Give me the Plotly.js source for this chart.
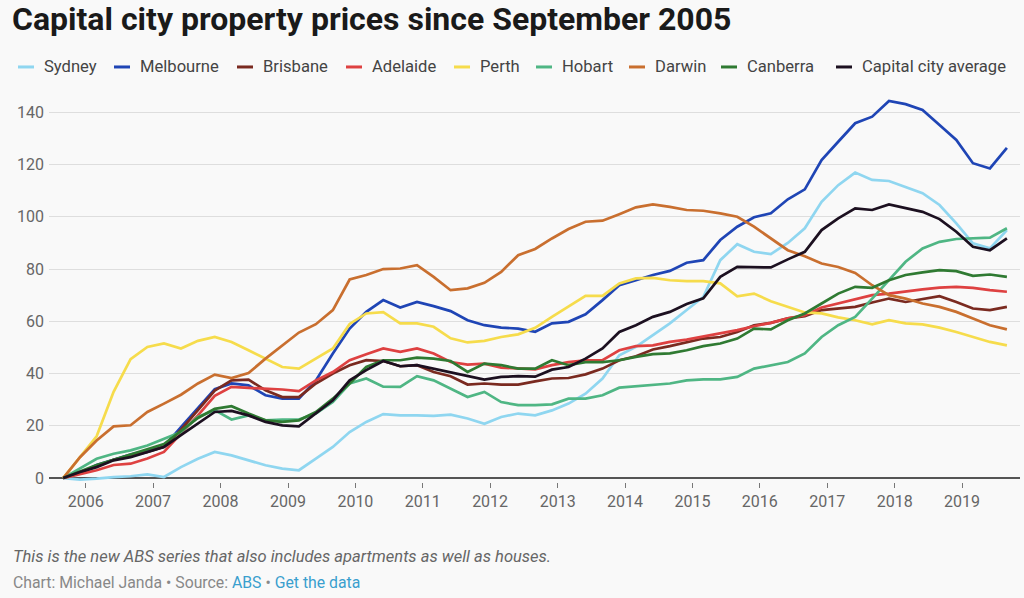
<!DOCTYPE html>
<html><head><meta charset="utf-8">
<script src="https://cdn.plot.ly/plotly-3.0.1.min.js"></script>
<style>html,body{margin:0;padding:0;background:#f9f9f9;} #chart{width:1024px;height:598px;}</style>
</head><body><div id="chart"></div>
<script>
const dates = [
 '2005-09-01','2005-12-01',
 '2006-03-01','2006-06-01','2006-09-01','2006-12-01',
 '2007-03-01','2007-06-01','2007-09-01','2007-12-01',
 '2008-03-01','2008-06-01','2008-09-01','2008-12-01',
 '2009-03-01','2009-06-01','2009-09-01','2009-12-01',
 '2010-03-01','2010-06-01','2010-09-01','2010-12-01',
 '2011-03-01','2011-06-01','2011-09-01','2011-12-01',
 '2012-03-01','2012-06-01','2012-09-01','2012-12-01',
 '2013-03-01','2013-06-01','2013-09-01','2013-12-01',
 '2014-03-01','2014-06-01','2014-09-01','2014-12-01',
 '2015-03-01','2015-06-01','2015-09-01','2015-12-01',
 '2016-03-01','2016-06-01','2016-09-01','2016-12-01',
 '2017-03-01','2017-06-01','2017-09-01','2017-12-01',
 '2018-03-01','2018-06-01','2018-09-01','2018-12-01',
 '2019-03-01','2019-06-01','2019-09-01'
];
const seriesNames = ['Sydney','Melbourne','Brisbane','Adelaide','Perth','Hobart','Darwin','Canberra','Capital city average'];
const sydney = [0,-0.6,-0.2,0.4,0.7,1.4,0.4,4.2,7.4,10,8.7,6.8,4.9,3.6,3.0,7.4,11.9,17.6,21.5,24.5,24,24,23.8,24.3,22.8,20.8,23.4,24.7,24,25.9,28.5,32.3,38.1,47,50.2,54.7,59.2,64.3,69.3,83.4,89.5,86.6,85.7,90,95.6,105.7,112.1,116.9,114.1,113.7,111.5,109,104.5,97.5,89.8,87.9,94.9];
const melbourne = [0,2,5,7,9,10.5,12,19.5,27,34,36.2,35.5,31.7,30.4,30.4,37.4,47.7,57.2,63.6,68.1,65.3,67.4,65.8,63.9,60.4,58.5,57.6,57.2,56,59.2,59.8,62.7,68.1,73.8,75.7,77.7,79.3,82.4,83.4,91.1,96.2,99.8,101.3,106.7,110.5,121.7,128.7,135.8,138.3,144.3,143.1,140.9,135.1,129.4,120.5,118.5,126.4];
const brisbane = [0,2,4.5,7,8.5,10,12,18.5,26,33.5,37.4,37.7,33.6,31,31,36.2,40,43.2,45.1,44.8,42.8,43.2,40.6,39,35.8,36.2,35.8,35.8,37,38.1,38.3,39.7,41.9,45.1,46.6,49.2,50.5,52.1,53.4,54,55.9,58.5,59.4,61.1,62,64.3,64.9,65.5,67.2,68.7,67.4,68.5,69.6,67.4,64.9,64.3,65.5];
const adelaide = [0,1.5,3,5,5.5,7.5,10,17,24,31.5,34.9,34.5,34.3,33.9,33.3,37.4,40.6,45.1,47.4,49.6,48.3,49.6,47.7,44.4,43.4,43.8,42.3,41.9,41.6,43.2,44.4,45.1,45.1,48.9,50.5,50.8,52.1,53,54.2,55.3,56.6,58.1,59.4,61.1,62.3,65.3,66.8,68.5,70,70.6,71.5,72.2,72.9,73.2,72.8,71.9,71.3];
const perth = [0,8,16,33,45.5,50.2,51.5,49.6,52.5,54,52.1,48.9,45.7,42.5,41.9,45.7,49.6,59,63,63.5,59.2,59.2,57.9,53.5,51.9,52.5,54,55,57.5,61.7,65.5,69.7,69.7,74.5,76.4,76.6,75.7,75.4,75.4,74.5,69.6,70.6,67.7,65.5,63.4,63,61.5,60.4,58.8,60.4,59.2,58.8,57.6,55.9,54,52.1,50.8];
const hobart = [0,3.6,7.4,9.3,10.6,12.5,15.1,17.6,23.4,26,22.4,24,22.1,22.4,22.4,24.7,29.1,36.2,38.1,35,34.9,39,37.4,34.3,31,33,29.1,27.9,27.9,28.2,30.4,30.4,31.7,34.6,35.1,35.5,36.2,37.4,37.8,37.8,38.7,41.9,43.2,44.4,47.7,54,58.5,61.7,68.7,75.7,82.8,87.9,90.4,91.5,91.7,92,95.6];
const darwin = [0,8,14.4,19.8,20.2,25.3,28.5,31.9,36.2,39.6,38.3,40.2,45.7,50.8,55.7,58.9,64.3,76,77.7,80,80.2,81.5,77,71.9,72.6,74.7,78.9,85.3,87.7,91.7,95.3,98.1,98.5,101,103.6,104.7,103.8,102.6,102.3,101.3,100,96.2,91.7,87.2,84.9,82.1,80.8,78.5,73.8,70,68.7,66.8,65.5,63.6,61.1,58.5,56.9];
const canberra = [0,2.5,5,7,9,11,13,18,23,26.5,27.5,24.7,22.1,21.5,22.1,25.3,30.4,36.2,42.5,45.1,45.1,46.1,45.7,44.8,40.6,43.8,43.2,41.9,41.9,45.1,43.2,44.4,44.4,45.1,46.4,47.4,47.7,48.9,50.5,51.5,53.4,57.2,56.9,60.4,63,66.8,70.6,73.2,72.8,75.7,77.7,78.7,79.6,79.2,77.4,77.9,77];
const capitalAverage = [0,2.3,4.2,6.8,8,10,11.9,16.4,20.8,25.3,25.7,24,21.5,20.2,19.8,24.7,29.8,37.4,41.3,44.8,42.8,43.2,41.9,40.6,39.3,37.7,38.7,39,38.8,41.5,42.5,45.7,49.6,55.9,58.5,61.7,63.6,66.6,68.8,77,80.8,80.8,80.6,83.7,86.6,94.9,99.4,103.2,102.6,104.7,103.4,101.9,99.1,94.3,88.5,87.2,91.7];
const yearTicks = ['2006','2007','2008','2009','2010','2011','2012','2013','2014','2015','2016','2017','2018','2019'];
const yTicks = [0,20,40,60,80,100,120,140];

const allSeries = [sydney, melbourne, brisbane, adelaide, perth, hobart, darwin, canberra, capitalAverage];
const colors = ['#8fd6f0','#1f45b5','#7a2a20','#de4141','#f6dc4c','#4fb684','#c96f2f','#2f7a32','#1c1020'];

// layout geometry (pixels)
const L = 49, R = 1020, T = 95, B = 481.6;
const px2x = p => (p - L) / (R - L);
const py2y = p => (B - p) / (B - T);

const traces = allSeries.map((vals, k) => ({
  type: 'scatter', mode: 'lines', name: seriesNames[k],
  x: dates, y: vals,
  line: {color: colors[k], width: 2.7, shape: 'linear'},
  hoverinfo: 'skip', showlegend: false
}));

// manual legend
const legendTextX = [42,138,261,370,478,560,653,745,860];
const legendY = 67;
const shapes = [];
const annotations = [];
seriesNames.forEach((n, k) => {
  shapes.push({type:'line', xref:'paper', yref:'paper',
    x0: px2x(legendTextX[k]-24), x1: px2x(legendTextX[k]-8),
    y0: py2y(legendY), y1: py2y(legendY),
    line:{color: colors[k], width: 3}});
  annotations.push({xref:'paper', yref:'paper', x: px2x(legendTextX[k]), y: py2y(legendY),
    xanchor:'left', yanchor:'middle', showarrow:false, text: n,
    font:{family:'Roboto, sans-serif', size:16.6, color:'#444'}});
});
annotations.push({xref:'paper', yref:'paper', x: px2x(11), y: py2y(556), xanchor:'left', yanchor:'middle',
  showarrow:false, text:'<i>This is the new ABS series that also includes apartments as well as houses.</i>',
  font:{family:'Roboto, sans-serif', size:16.5, color:'#666'}});
annotations.push({xref:'paper', yref:'paper', x: px2x(11), y: py2y(582), xanchor:'left', yanchor:'middle',
  showarrow:false, text:'Chart: Michael Janda • Source: <span style="color:#3a9fce">ABS</span> • <span style="color:#3a9fce">Get the data</span>',
  font:{family:'Roboto, sans-serif', size:15.8, color:'#888'}});

const layout = {
  width: 1024, height: 598,
  paper_bgcolor: '#f9f9f9', plot_bgcolor: '#f9f9f9',
  margin: {l: L, r: 1024 - R, t: T, b: 598 - B},
  title: {text: 'Capital city property prices since September 2005', xref:'container', yref:'container',
    x: 12/1024, xanchor:'left', y: 1 - 19/598, yanchor:'middle',
    font:{family:'Roboto, sans-serif', size:32, weight:700, color:'#1a1a1a'}},
  xaxis: {type:'date', range:['2005-06-16','2019-11-11'],
    tickvals: yearTicks.map(y => y + '-01-01'), ticktext: yearTicks,
    ticks:'outside', ticklen:5, tickwidth:1, tickcolor:'#777',
    showgrid:false, showline:false, zeroline:false,
    tickfont:{family:'Roboto, sans-serif', size:16, color:'#666'}},
  yaxis: {range:[-1.5, 146.6], tickvals: yTicks, ticktext: yTicks.map(String),
    showgrid:true, gridcolor:'#dedede', gridwidth:1,
    zeroline:true, zerolinecolor:'#555', zerolinewidth:2,
    ticks:'', ticklabelstandoff: 4,
    tickfont:{family:'Roboto, sans-serif', size:16, color:'#666'}},
  shapes: shapes, annotations: annotations, showlegend:false
};
Plotly.newPlot('chart', traces, layout, {displayModeBar:false, staticPlot:true});
</script>
</body></html>
